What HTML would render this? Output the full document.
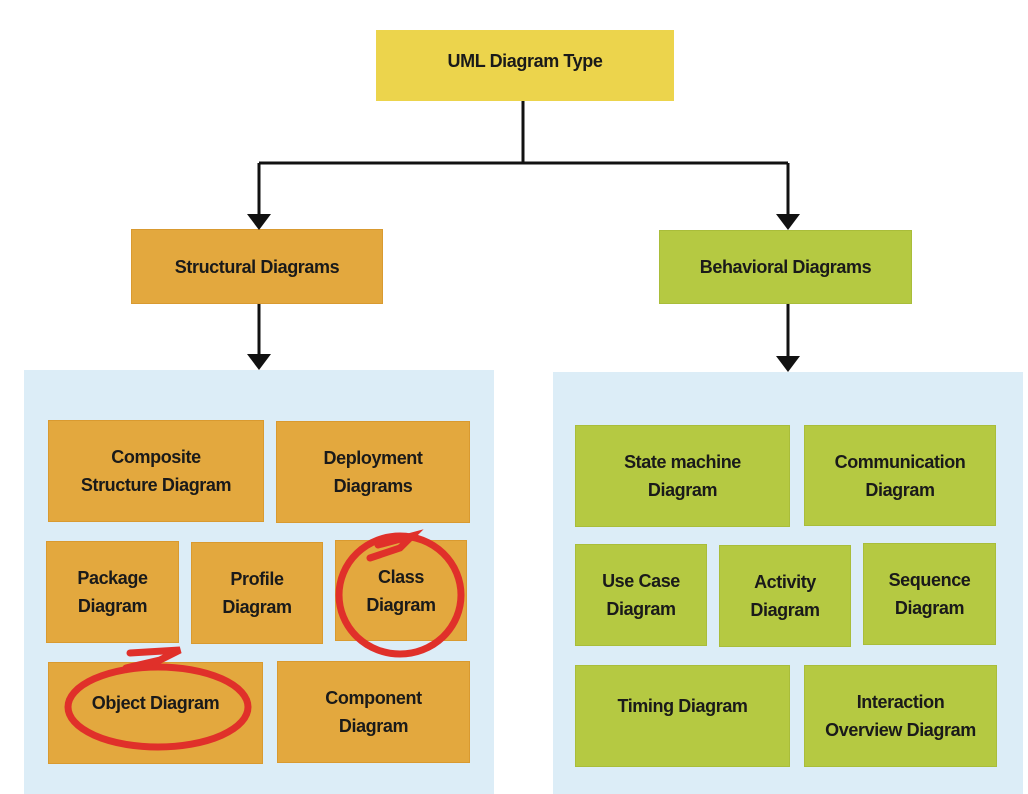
<!DOCTYPE html>
<html><head><style>
body{margin:0;width:1028px;height:794px;background:#fff;position:relative;overflow:hidden;font-family:"Liberation Sans",sans-serif}
.b{position:absolute;display:flex;align-items:center;justify-content:center;text-align:center;font-weight:bold;font-size:18px;color:#1a1a1a;line-height:28px;box-sizing:border-box;letter-spacing:-0.4px}
.o{background:#e3a83e;border:1px solid #d99a30}
.g{background:#b5c942;border:1px solid #a9bd3a}
.p{position:absolute;background:#dcedf7}
</style></head><body>
<div class="p" style="left:24px;top:370px;width:470px;height:424px"></div>
<div class="p" style="left:553px;top:372px;width:470px;height:422px"></div>
<div class="b" style="left:376px;top:30px;width:298px;height:62px;background:#ecd44c;padding-top:0;height:71px;padding-bottom:10px">UML Diagram Type</div>
<div class="b o" style="left:131px;top:229px;width:252px;height:75px">Structural Diagrams</div>
<div class="b g" style="left:659px;top:230px;width:253px;height:74px">Behavioral Diagrams</div>

<div class="b o" style="left:48px;top:420px;width:216px;height:102px">Composite<br>Structure Diagram</div>
<div class="b o" style="left:276px;top:421px;width:194px;height:102px">Deployment<br>Diagrams</div>
<div class="b o" style="left:46px;top:541px;width:133px;height:102px">Package<br>Diagram</div>
<div class="b o" style="left:191px;top:542px;width:132px;height:102px">Profile<br>Diagram</div>
<div class="b o" style="left:335px;top:540px;width:132px;height:101px">Class<br>Diagram</div>
<div class="b o" style="left:48px;top:662px;width:215px;height:102px;padding-bottom:20px">Object Diagram</div>
<div class="b o" style="left:277px;top:661px;width:193px;height:102px">Component<br>Diagram</div>

<div class="b g" style="left:575px;top:425px;width:215px;height:102px">State machine<br>Diagram</div>
<div class="b g" style="left:804px;top:425px;width:192px;height:101px">Communication<br>Diagram</div>
<div class="b g" style="left:575px;top:544px;width:132px;height:102px">Use Case<br>Diagram</div>
<div class="b g" style="left:719px;top:545px;width:132px;height:102px">Activity<br>Diagram</div>
<div class="b g" style="left:863px;top:543px;width:133px;height:102px">Sequence<br>Diagram</div>
<div class="b g" style="left:575px;top:665px;width:215px;height:102px;padding-bottom:20px">Timing Diagram</div>
<div class="b g" style="left:804px;top:665px;width:193px;height:102px">Interaction<br>Overview Diagram</div>

<svg width="1028" height="794" style="position:absolute;left:0;top:0">
<g stroke="#111" stroke-width="3" fill="none">
<path d="M523 101V163M259 163H788M259 163V216M788 163V216M259 304V356M788 304V358"/>
</g>
<g fill="#111">
<path d="M247 214L271 214L259 230Z"/><path d="M776 214L800 214L788 230Z"/>
<path d="M247 354L271 354L259 370Z"/><path d="M776 356L800 356L788 372Z"/>
</g>
<g stroke="#e0302a" stroke-width="7" fill="none" stroke-linecap="round">
<ellipse cx="400" cy="595" rx="61" ry="59"/>
<path d="M378 545L412 536L400 548L370 558"/>
<ellipse cx="158" cy="707" rx="90" ry="40"/>
<path d="M130 653L180 650L160 660L126 668"/>
</g>
</svg>
</body></html>
